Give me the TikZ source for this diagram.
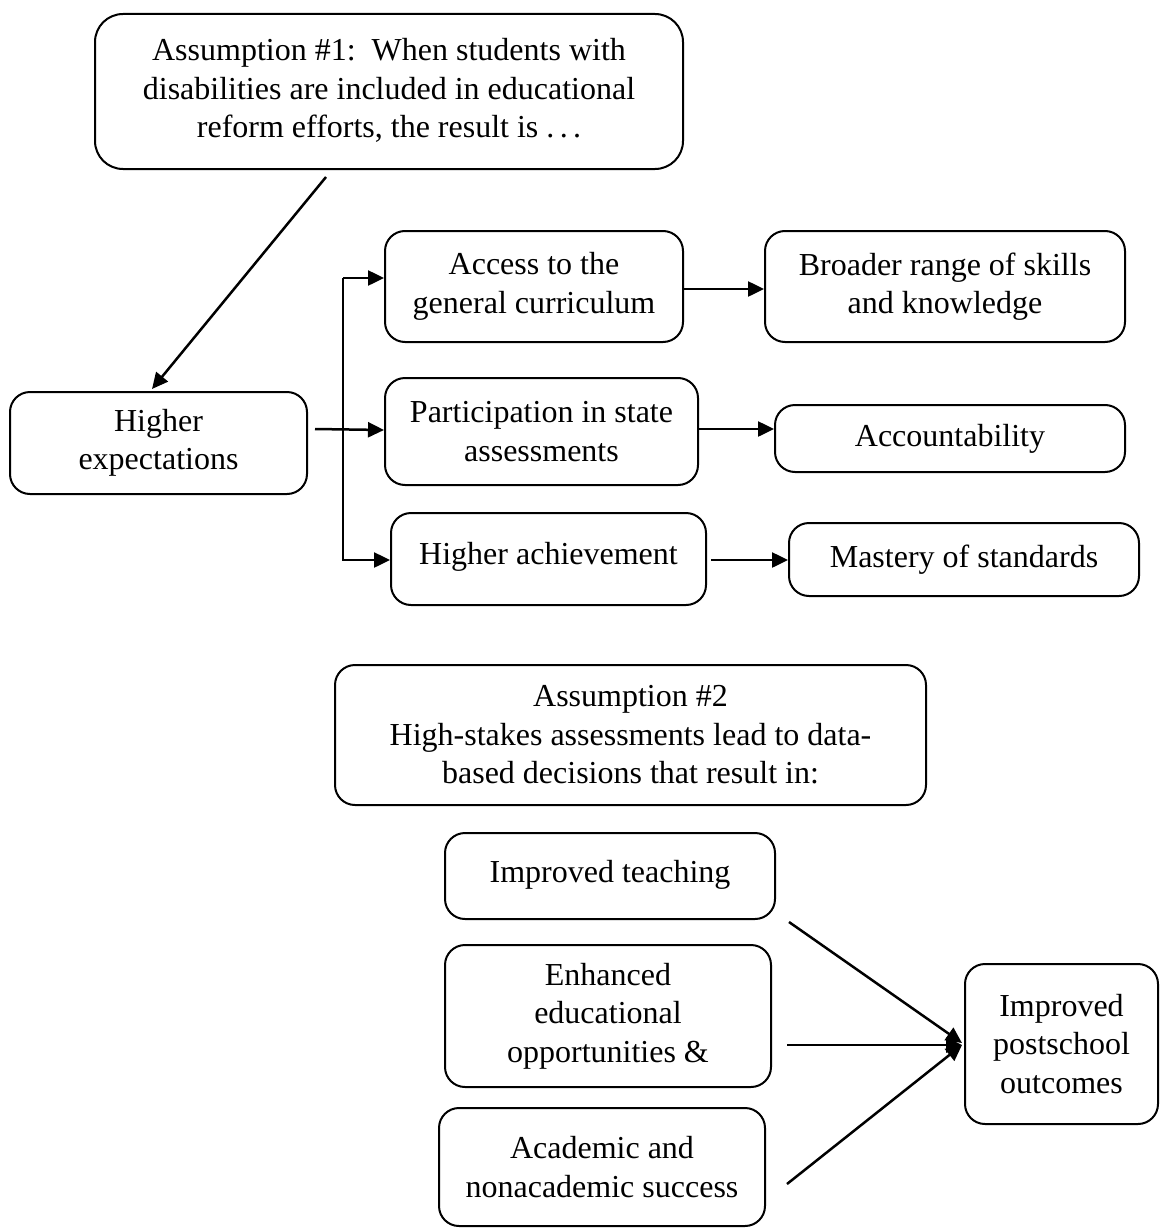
\documentclass[tikz,border=0pt]{standalone}
\usepackage{fontspec}
\setmainfont{Liberation Serif}
\usetikzlibrary{arrows.meta,calc}
\begin{document}
\begin{tikzpicture}[x=1pt,y=-1pt,
  box/.style={draw,line width=2pt,rounded corners=20pt,align=center,inner sep=0pt,
    font=\fontsize{32}{38.5}\selectfont},
  arr/.style={line width=2.5pt,-{Triangle[length=16pt,width=15pt]}},
  ln/.style={line width=2.5pt}]
\useasboundingbox (0,0) rectangle (1160,1228);
% Assumption 1 part
\node[box,rounded corners=28pt,minimum width=588pt,minimum height=155pt] (A1) at (389,91.5)
  {\raisebox{6pt}{\begin{tabular}{@{}c@{}}Assumption \#1:\ \ When students with\\disabilities are included in educational\\reform efforts, the result is .\,.\,.\end{tabular}}};
\node[box,minimum width=297pt,minimum height=102pt] (HE) at (158.5,443) {\raisebox{-6pt}{\begin{tabular}{@{}c@{}}Higher\\expectations\end{tabular}}};
\node[box,minimum width=298pt,minimum height=111pt] (AC) at (534,286.5) {Access to the\\general curriculum};
\node[box,minimum width=360pt,minimum height=111pt] (BR) at (945,286.5) {Broader range of skills\\and knowledge};
\node[box,minimum width=313pt,minimum height=107pt] (PA) at (541.5,431.5) {Participation in state\\assessments};
\node[box,minimum width=350pt,minimum height=67pt] (ACC) at (950,438.5) {Accountability};
\node[box,minimum width=315pt,minimum height=92pt] (HA) at (548.5,559) {\raisebox{11pt}{Higher achievement}};
\node[box,minimum width=350pt,minimum height=73pt] (MA) at (964,559.5) {Mastery of standards};
% Assumption 2 part
\node[box,minimum width=591pt,minimum height=140pt] (A2) at (630.5,735)
  {Assumption \#2\\High-stakes assessments lead to data-\\based decisions that result in:};
\node[box,minimum width=330pt,minimum height=86pt] (IT) at (610,876) {\raisebox{9pt}{Improved teaching}};
\node[box,minimum width=326pt,minimum height=142pt] (EN) at (608,1016) {Enhanced\\educational\\opportunities \&};
\node[box,minimum width=326pt,minimum height=118pt] (AA) at (602,1167) {Academic and\\nonacademic success};
\node[box,minimum width=193pt,minimum height=160pt] (PS) at (1061.5,1044) {Improved\\postschool\\outcomes};
% connectors
\coordinate (brtop) at (343,278);
\coordinate (brbot) at (343,560);
\draw[arr] ($(A1.south)+(-63,7)$) -- ($(HE.north)+(-6.5,-2)$);
\draw[arr] ($(HE.east)+(7,-14)$) -- ($(PA.west)+(0,-1.5)$);
\draw[arr] (brtop) -- (brtop -| AC.west);
\draw[arr] (brtop) -- (brbot) -- (brbot -| HA.west);
\draw[arr] ($(AC.east)+(0,2.5)$) -- ($(BR.west)+(0,2.5)$);
\draw[arr] ($(PA.east)+(0,-2.5)$) -- ($(ACC.west)+(0,-9.5)$);
\draw[arr] ($(HA.east)+(4,1)$) -- ($(MA.west)+(0,0.5)$);
\draw[arr] ($(IT.south east)+(13,2)$) -- ($(PS.west)+(-2,-1)$);
\draw[arr] ($(EN.east)+(15,29)$) -- ($(PS.west)+(-2,1)$);
\draw[arr] ($(AA.east)+(21,17)$) -- ($(PS.west)+(-2,1)$);
\end{tikzpicture}
\end{document}
